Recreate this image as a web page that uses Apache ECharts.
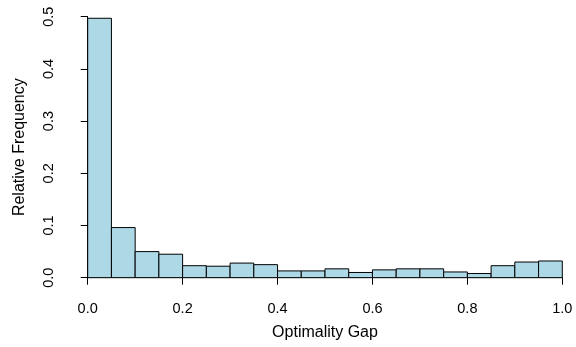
<!DOCTYPE html>
<html>
<head>
<meta charset="utf-8">
<script src="https://cdn.jsdelivr.net/npm/echarts@6/dist/echarts.min.js"></script>
<style>
html,body{margin:0;padding:0;background:#fff;}
#chart{width:576px;height:347px;}
</style>
</head>
<body>
<div id="chart"></div>
<script>
// Histogram bin edges (width 0.05)
const binEdges = [0.00, 0.05, 0.10, 0.15, 0.20, 0.25, 0.30, 0.35, 0.40, 0.45, 0.50,
                  0.55, 0.60, 0.65, 0.70, 0.75, 0.80, 0.85, 0.90, 0.95, 1.00];
// Relative frequency per bin
const relFreq = [0.497, 0.096, 0.050, 0.045, 0.023, 0.022, 0.028, 0.025, 0.013, 0.013,
                 0.017, 0.010, 0.015, 0.017, 0.017, 0.011, 0.008, 0.023, 0.030, 0.032];
const xTicks = [0.0, 0.2, 0.4, 0.6, 0.8, 1.0];
const yTicks = [0.0, 0.1, 0.2, 0.3, 0.4, 0.5];
const xTitle = 'Optimality Gap';
const yTitle = 'Relative Frequency';

const data = relFreq.map((v, i) => [binEdges[i], binEdges[i + 1], v]);

const chart = echarts.init(document.getElementById('chart'), null, {renderer: 'canvas'});
const font = 'Liberation Sans, Arial, sans-serif';
chart.setOption({
  animation: false,
  backgroundColor: '#ffffff',
  grid: {left: 87.7, right: 13.7, top: 16.7, bottom: 69.3, containLabel: false},
  xAxis: {
    type: 'value',
    min: xTicks[0], max: xTicks[xTicks.length - 1], interval: 0.2,
    offset: 10.5,
    name: xTitle, nameLocation: 'middle', nameGap: 36.5,
    nameTextStyle: {fontFamily: font, fontSize: 16, color: '#000'},
    axisLine: {show: true, lineStyle: {color: '#000', width: 1}},
    axisTick: {show: true, length: 7, lineStyle: {color: '#000'}},
    axisLabel: {fontFamily: font, fontSize: 14.5, color: '#000', margin: 13,
      formatter: v => v.toFixed(1)},
    splitLine: {show: false}
  },
  yAxis: {
    type: 'value',
    min: yTicks[0], max: yTicks[yTicks.length - 1], interval: 0.1,
    offset: 18.4,
    name: yTitle, nameLocation: 'middle', nameGap: 42, nameRotate: 90,
    nameTextStyle: {fontFamily: font, fontSize: 16, color: '#000'},
    axisLine: {show: true, lineStyle: {color: '#000', width: 1}},
    axisTick: {show: true, length: 7, lineStyle: {color: '#000'}},
    axisLabel: {fontFamily: font, fontSize: 14.5, color: '#000', margin: 13, rotate: 90,
      formatter: v => v.toFixed(1)},
    splitLine: {show: false}
  },
  series: [{
    type: 'custom',
    data: data,
    encode: {x: [0, 1], y: 2},
    renderItem: function (params, api) {
      const p0 = api.coord([api.value(0), api.value(2)]);
      const p1 = api.coord([api.value(1), 0]);
      return {
        type: 'rect',
        shape: {x: p0[0], y: p0[1], width: p1[0] - p0[0], height: p1[1] - p0[1]},
        style: {fill: '#ADD8E6', stroke: '#000', lineWidth: 1}
      };
    }
  }]
});
</script>
</body>
</html>
